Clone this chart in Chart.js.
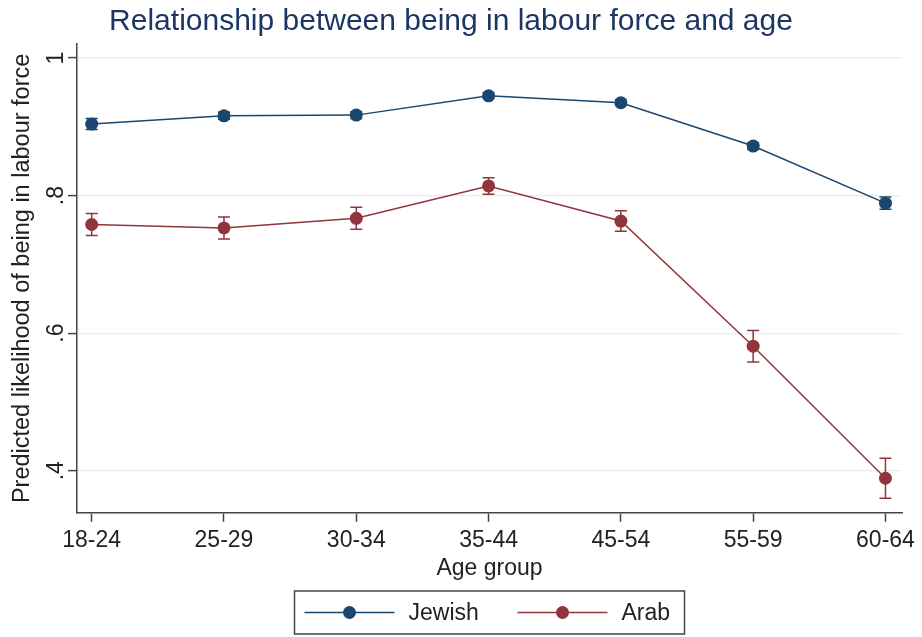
<!DOCTYPE html>
<html>
<head>
<meta charset="utf-8">
<script src="https://cdn.jsdelivr.net/npm/chart.js@4"></script>
<style>
  body { margin: 0; background: #fff; }
  canvas { display: block; }
</style>
</head>
<body>
<canvas id="ageChart" width="922" height="637"></canvas>
<script>
// values
var ageGroups = ['18-24', '25-29', '30-34', '35-44', '45-54', '55-59', '60-64'];
var jewish    = [0.904, 0.916, 0.917, 0.945, 0.935, 0.872, 0.789];
var jewishErr = [0.008, 0.005, 0.005, 0.004, 0.004, 0.005, 0.009];
var arab      = [0.758, 0.753, 0.767, 0.814, 0.763, 0.581, 0.389];
var arabErr   = [0.016, 0.016, 0.016, 0.012, 0.015, 0.023, 0.029];
var yTicks    = [0.4, 0.6, 0.8, 1];
var yLabels   = ['.4', '.6', '.8', '1'];

var FONT = '"Liberation Sans", Arial, Helvetica, sans-serif';
var navy = '#1a476f';
var maroon = '#90353b';

function points(arr) {
    return arr.map(function (v, i) { return { x: i, y: v }; });
}

// confidence interval whiskers, drawn under the markers
var errorBars = {
    id: 'errorBars',
    beforeDatasetsDraw: function (chart) {
        var ctx = chart.ctx;
        var x = chart.scales.x, y = chart.scales.y;
        var errs = [jewishErr, arabErr];
        chart.data.datasets.forEach(function (ds, d) {
            ctx.save();
            ctx.strokeStyle = ds.borderColor;
            ctx.lineWidth = 1.5;
            ds.data.forEach(function (p, i) {
                var px = x.getPixelForValue(p.x);
                var top = y.getPixelForValue(p.y + errs[d][i]);
                var bot = y.getPixelForValue(p.y - errs[d][i]);
                ctx.beginPath();
                ctx.moveTo(px, top); ctx.lineTo(px, bot);
                ctx.moveTo(px - 6, top); ctx.lineTo(px + 6, top);
                ctx.moveTo(px - 6, bot); ctx.lineTo(px + 6, bot);
                ctx.stroke();
            });
            ctx.restore();
        });
    }
};

// rotated y tick labels (stata style)
var yTickLabels = {
    id: 'yTickLabels',
    afterDraw: function (chart) {
        var ctx = chart.ctx, y = chart.scales.y;
        ctx.save();
        ctx.font = '23px ' + FONT;
        ctx.fillStyle = '#222';
        ctx.textAlign = 'center';
        ctx.textBaseline = 'alphabetic';
        y.ticks.forEach(function (t, i) {
            ctx.save();
            ctx.translate(y.right - 14, y.getPixelForValue(t.value));
            ctx.rotate(-Math.PI / 2);
            ctx.fillText(yLabels[i], 0, 0);
            ctx.restore();
        });
        ctx.restore();
    }
};

// boxed legend under the axis title
var boxLegend = {
    id: 'boxLegend',
    afterDraw: function (chart) {
        var ctx = chart.ctx, area = chart.chartArea;
        var cx = (area.left + area.right) / 2;
        var left = cx - 195, top = 591, w = 390, h = 43;
        ctx.save();
        ctx.strokeStyle = '#444';
        ctx.lineWidth = 1.5;
        ctx.strokeRect(left, top, w, h);
        var my = top + h / 2;
        var starts = [left + 10, left + 223];
        ctx.font = '23px ' + FONT;
        ctx.textBaseline = 'middle';
        chart.data.datasets.forEach(function (ds, i) {
            var sx = starts[i];
            ctx.strokeStyle = ds.borderColor;
            ctx.beginPath();
            ctx.moveTo(sx, my); ctx.lineTo(sx + 90, my);
            ctx.stroke();
            ctx.fillStyle = ds.pointBackgroundColor;
            ctx.beginPath();
            ctx.arc(sx + 45, my, 6.5, 0, Math.PI * 2);
            ctx.fill();
            ctx.fillStyle = '#222';
            ctx.fillText(ds.label, sx + 104, my + 1);
        });
        ctx.restore();
    }
};

var chart = new Chart(document.getElementById('ageChart').getContext('2d'), {
    type: 'line',
    data: {
        datasets: [{
            label: 'Jewish',
            data: points(jewish),
            borderColor: navy,
            pointBackgroundColor: navy,
            borderWidth: 1.5,
            pointRadius: 6.5,
            pointBorderWidth: 0
        }, {
            label: 'Arab',
            data: points(arab),
            borderColor: maroon,
            pointBackgroundColor: maroon,
            borderWidth: 1.5,
            pointRadius: 6.5,
            pointBorderWidth: 0
        }]
    },
    options: {
        responsive: false,
        animation: false,
        layout: { padding: { left: 0, right: 20, top: 0, bottom: 55 } },
        scales: {
            x: {
                type: 'linear',
                min: -0.111,
                max: 6.125,
                afterBuildTicks: function (s) {
                    s.ticks = ageGroups.map(function (_, i) { return { value: i }; });
                },
                ticks: {
                    autoSkip: false,
                    maxRotation: 0,
                    padding: 5,
                    color: '#222',
                    font: { family: FONT, size: 23 },
                    callback: function (v) { return ageGroups[v]; }
                },
                grid: { drawOnChartArea: false, tickLength: 9, tickColor: '#444', tickWidth: 1.5 },
                border: { color: '#444', width: 1.5 },
                title: {
                    display: true,
                    text: 'Age group',
                    color: '#222',
                    font: { family: FONT, size: 23 },
                    padding: { top: -5, bottom: 0 }
                }
            },
            y: {
                min: 0.3388,
                max: 1.0204,
                afterBuildTicks: function (s) {
                    s.ticks = yTicks.map(function (v) { return { value: v }; });
                },
                afterFit: function (s) { s.width = 77; },
                ticks: { display: false },
                grid: { color: '#e6eef0', lineWidth: 1.2, tickLength: 9, tickColor: '#444', tickWidth: 1.5 },
                border: { color: '#444', width: 1.5 },
                title: {
                    display: true,
                    text: 'Predicted likelihood of being in labour force',
                    color: '#222',
                    font: { family: FONT, size: 23.5 },
                    padding: { top: 8, bottom: 0 }
                }
            }
        },
        plugins: {
            legend: { display: false },
            tooltip: { enabled: false },
            title: {
                display: true,
                text: 'Relationship between being in labour force and age',
                color: '#1c3664',
                font: { family: FONT, size: 30, weight: 'normal' },
                padding: { top: 4, bottom: 4 }
            }
        }
    },
    plugins: [errorBars, yTickLabels, boxLegend]
});
</script>
</body>
</html>
